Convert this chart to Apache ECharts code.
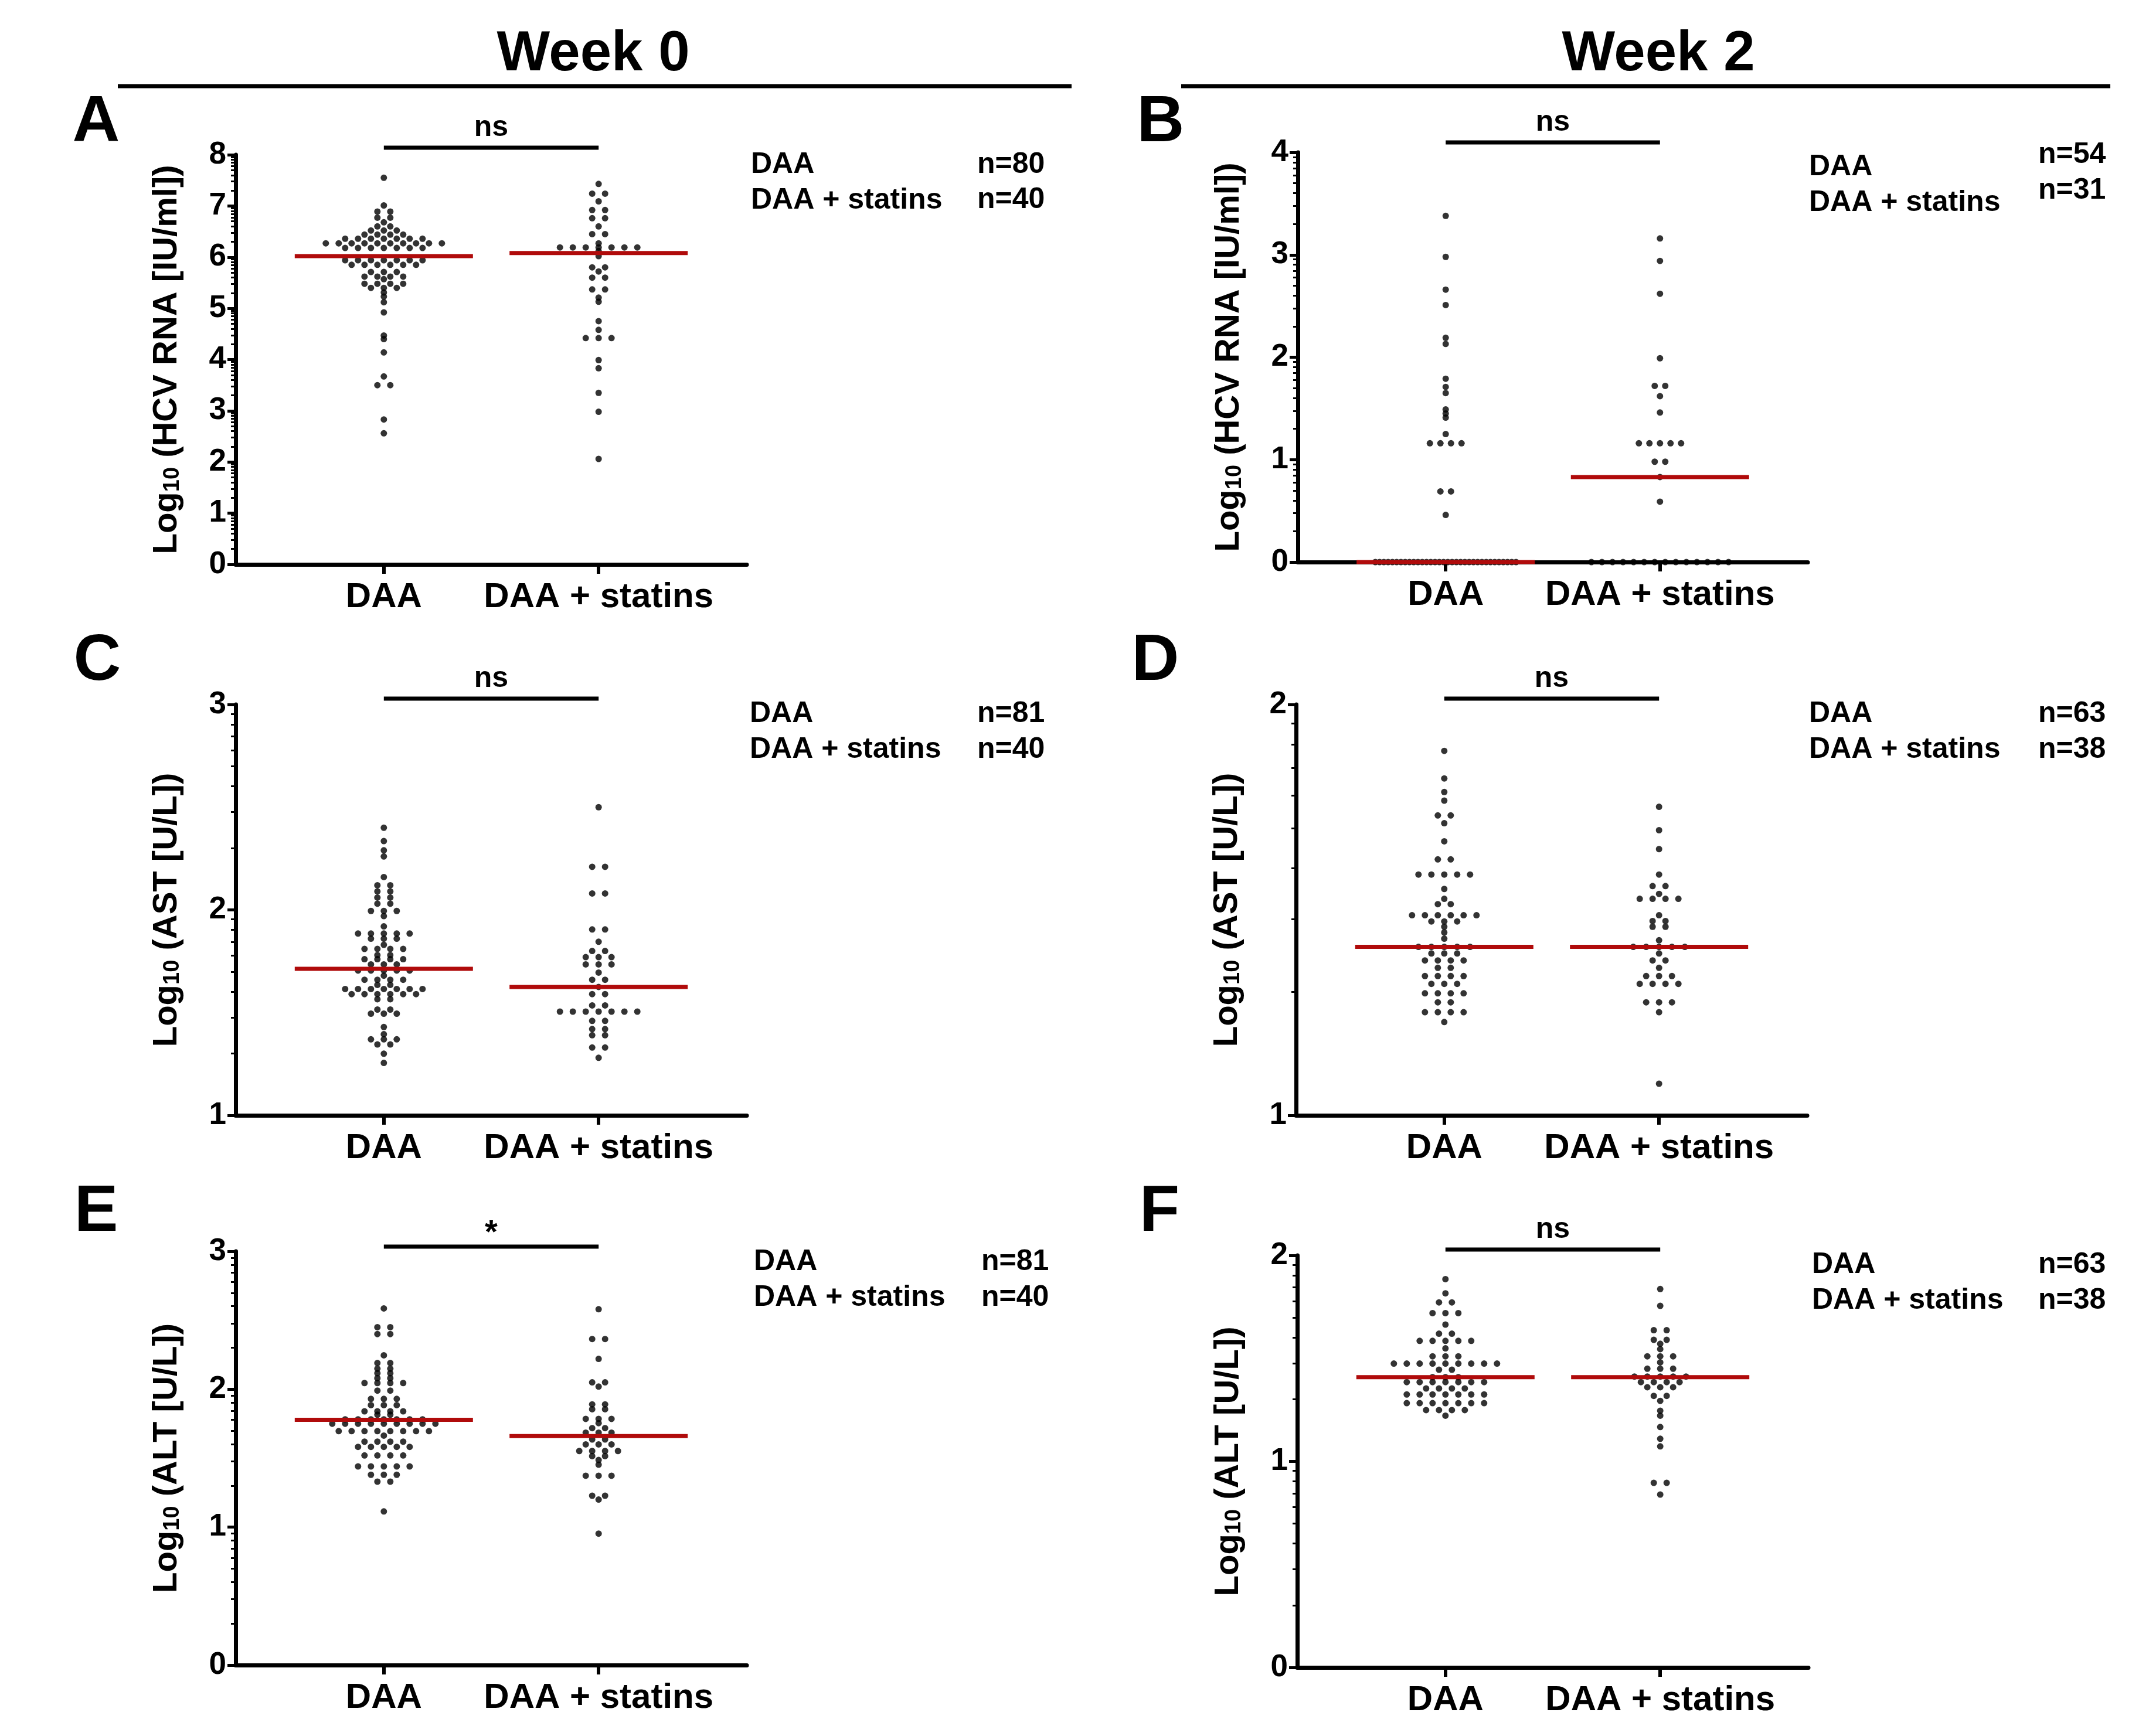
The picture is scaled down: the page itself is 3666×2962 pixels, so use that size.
<!DOCTYPE html>
<html><head><meta charset="utf-8">
<script src="https://cdn.jsdelivr.net/npm/echarts@6/dist/echarts.min.js"></script>
<style>html,body{margin:0;padding:0;background:#fff}#c{width:3666px;height:2962px}</style>
</head><body><div id="c"></div>
<script>
// ---------------- data ----------------
const categories = ['DAA', 'DAA + statins'];
const columnTitles = ['Week 0', 'Week 2'];
const panelLetters = ['A', 'B', 'C', 'D', 'E', 'F'];
const yTitles = ['HCV RNA [IU/ml]', 'HCV RNA [IU/ml]', 'AST [U/L]', 'AST [U/L]', 'ALT [U/L]', 'ALT [U/L]'];
const yRanges = [[0, 8], [0, 4], [1, 3], [1, 2], [0, 3], [0, 2]];
const sigLabels = ['ns', 'ns', 'ns', 'ns', '*', 'ns'];
const nLabels = [['n=80', 'n=40'], ['n=54', 'n=31'], ['n=81', 'n=40'], ['n=63', 'n=38'], ['n=81', 'n=40'], ['n=63', 'n=38']];
const medians = [[6.02, 6.08], [0, 0.83], [1.713, 1.625], [1.41, 1.41], [1.778, 1.66], [1.409, 1.409]];

const A_daa = [7.55, 7.01, 6.89, 6.89, 6.77, 6.77, 6.68, 6.60, 6.60, 6.52, 6.52, 6.52, 6.44, 6.44, 6.44, 6.44,
  6.36, 6.36, 6.36, 6.36, 6.36, 6.36, 6.36,
  6.27, 6.27, 6.27, 6.27, 6.27, 6.27, 6.27, 6.27, 6.27, 6.27,
  6.18, 6.18, 6.18, 6.18, 6.18, 6.18, 6.18,
  5.94, 5.94, 5.94, 5.94, 5.94, 5.94, 5.94,
  5.85, 5.85, 5.85, 5.85, 5.85, 5.85,
  5.71, 5.71, 5.71, 5.62, 5.62, 5.62, 5.62, 5.57, 5.48, 5.48, 5.48, 5.48, 5.40, 5.40, 5.40,
  5.31, 5.23, 5.12, 4.92, 4.47, 4.40, 4.14, 3.67, 3.50, 3.50, 2.83, 2.56];
const A_statins = [7.43, 7.24, 7.24, 7.09, 6.92, 6.92, 6.76, 6.76, 6.60, 6.45, 6.45, 6.27,
  6.19, 6.19, 6.19, 6.19, 6.19, 6.19, 6.19, 6.12, 6.02, 5.80, 5.80, 5.72, 5.60, 5.60, 5.37, 5.37,
  5.21, 5.13, 4.75, 4.58, 4.42, 4.42, 4.42, 3.99, 3.83, 3.35, 2.98, 2.06];

const B_daa = [3.38, 2.98, 2.66, 2.51, 2.19, 2.13, 1.79, 1.71, 1.65, 1.49, 1.45, 1.41, 1.25,
  1.16, 1.16, 1.16, 1.16, 0.69, 0.69, 0.46,
  0, 0, 0, 0, 0, 0, 0, 0, 0, 0, 0, 0, 0, 0, 0, 0, 0, 0, 0, 0, 0, 0, 0, 0, 0, 0, 0, 0, 0, 0, 0, 0, 0, 0];
const B_statins = [3.16, 2.94, 2.62, 1.99, 1.72, 1.72, 1.62, 1.46, 1.16, 1.16, 1.16, 1.16, 1.16,
  0.98, 0.98, 0.83, 0.59, 0, 0, 0, 0, 0, 0, 0, 0, 0, 0, 0, 0, 0, 0];

const C_daa = [2.40, 2.335, 2.29, 2.26, 2.16, 2.12, 2.12, 2.09, 2.09, 2.06, 2.06, 2.03, 2.03,
  1.995, 1.995, 1.995, 1.97, 1.92, 1.885, 1.885, 1.885, 1.885, 1.885, 1.86, 1.86, 1.86, 1.83,
  1.81, 1.81, 1.81, 1.81, 1.78, 1.78, 1.76, 1.76, 1.76, 1.76, 1.735, 1.735, 1.735,
  1.705, 1.705, 1.705, 1.705, 1.705, 1.68, 1.66, 1.66, 1.66, 1.66, 1.635, 1.635,
  1.615, 1.615, 1.615, 1.615, 1.615, 1.615, 1.615, 1.59, 1.59, 1.59, 1.59, 1.59, 1.59,
  1.565, 1.565, 1.515, 1.515, 1.495, 1.495, 1.495, 1.43, 1.395, 1.37, 1.37, 1.37, 1.345, 1.345, 1.30, 1.255];
const C_statins = [2.50, 2.21, 2.21, 2.08, 2.08, 1.905, 1.905, 1.845, 1.80, 1.80, 1.77, 1.77, 1.77,
  1.735, 1.735, 1.735, 1.695, 1.66, 1.66, 1.625, 1.59, 1.59, 1.535, 1.535,
  1.505, 1.505, 1.505, 1.505, 1.505, 1.505, 1.505, 1.46, 1.46, 1.42, 1.42, 1.39, 1.39, 1.33, 1.33, 1.28];

const D_daa = [1.887, 1.820, 1.787, 1.766, 1.73, 1.73, 1.711, 1.667, 1.623, 1.623,
  1.586, 1.586, 1.586, 1.586, 1.586, 1.551, 1.527, 1.514, 1.514,
  1.487, 1.487, 1.487, 1.487, 1.487, 1.487, 1.472, 1.472, 1.472, 1.459, 1.445, 1.430,
  1.410, 1.410, 1.410, 1.410, 1.410, 1.394, 1.394, 1.394, 1.377, 1.377, 1.377, 1.377, 1.359, 1.359,
  1.339, 1.339, 1.339, 1.339, 1.320, 1.320, 1.320, 1.297, 1.297, 1.297, 1.297, 1.275, 1.275,
  1.251, 1.251, 1.251, 1.251, 1.227];
const D_statins = [1.751, 1.694, 1.648, 1.586, 1.558, 1.558, 1.539, 1.527, 1.527, 1.527, 1.527,
  1.487, 1.473, 1.473, 1.459, 1.459, 1.426, 1.410, 1.410, 1.410, 1.410, 1.410, 1.394, 1.377, 1.377,
  1.359, 1.339, 1.339, 1.339, 1.320, 1.320, 1.320, 1.320, 1.275, 1.275, 1.275, 1.251, 1.077];

const E_daa = [2.586, 2.45, 2.45, 2.40, 2.40, 2.246, 2.19, 2.19, 2.149, 2.149, 2.116, 2.116, 2.08, 2.08,
  2.045, 2.045, 2.045, 2.045, 1.99, 1.99, 1.93, 1.93, 1.93, 1.885, 1.885, 1.885, 1.840, 1.840, 1.840, 1.840,
  1.815, 1.815, 1.782, 1.782, 1.782, 1.782, 1.782, 1.782, 1.782,
  1.750, 1.750, 1.750, 1.750, 1.750, 1.750, 1.750, 1.750, 1.750,
  1.696, 1.696, 1.696, 1.696, 1.696, 1.696, 1.696, 1.696, 1.664, 1.62, 1.62, 1.62, 1.62,
  1.582, 1.582, 1.582, 1.582, 1.582, 1.52, 1.52, 1.52, 1.52, 1.44, 1.44, 1.44, 1.44, 1.44,
  1.38, 1.38, 1.38, 1.33, 1.33, 1.114];
const E_statins = [2.580, 2.364, 2.364, 2.220, 2.05, 2.05, 2.019, 1.89, 1.89, 1.855, 1.855,
  1.785, 1.785, 1.785, 1.754, 1.718, 1.718, 1.685, 1.685, 1.685, 1.636, 1.636, 1.60, 1.60, 1.60,
  1.552, 1.552, 1.552, 1.552, 1.515, 1.515, 1.487, 1.453, 1.373, 1.373, 1.373, 1.228, 1.228, 1.200, 0.953];

const F_daa = [1.885, 1.816, 1.772, 1.772, 1.72, 1.72, 1.72, 1.664, 1.62, 1.62,
  1.585, 1.585, 1.585, 1.585, 1.585, 1.549, 1.51, 1.51, 1.51,
  1.475, 1.475, 1.475, 1.475, 1.475, 1.475, 1.475, 1.475, 1.475, 1.445, 1.445,
  1.409, 1.409, 1.409, 1.385, 1.385, 1.385, 1.385, 1.385, 1.385, 1.385, 1.354, 1.354, 1.354, 1.354,
  1.325, 1.325, 1.325, 1.325, 1.325, 1.325, 1.325, 1.283, 1.283, 1.283, 1.283, 1.283, 1.283, 1.283,
  1.249, 1.249, 1.249, 1.249, 1.222];
const F_statins = [1.837, 1.755, 1.637, 1.637, 1.59, 1.59, 1.571, 1.545, 1.51, 1.51, 1.51, 1.481,
  1.45, 1.45, 1.45, 1.412, 1.412, 1.412, 1.412, 1.412, 1.385, 1.385, 1.385, 1.385, 1.360, 1.360, 1.360,
  1.318, 1.318, 1.294, 1.246, 1.222, 1.167, 1.110, 1.073, 0.896, 0.896, 0.839];

const groupData = [[A_daa, A_statins], [B_daa, B_statins], [C_daa, C_statins],
                   [D_daa, D_statins], [E_daa, E_statins], [F_daa, F_statins]];

// ---------------- layout / style ----------------
const FONT = '"Liberation Sans", Arial, Helvetica, sans-serif';
const RED = '#b00b0b';
const grids = [
  {left: 402, top: 264, width: 872, height: 699},
  {left: 2214, top: 260, width: 870, height: 699},
  {left: 402, top: 1202, width: 872, height: 701},
  {left: 2211, top: 1202, width: 872, height: 701},
  {left: 402, top: 2135, width: 872, height: 706},
  {left: 2213, top: 2142, width: 872, height: 703}
];
const X_MIN = 0.31, X_MAX = 2.69;
const swarmStep = [22, 18, 22, 22, 22, 22];
const swarmCap = 240;
const medianHalfPx = 152;
const sigGap = [12, 17, 10, 10, 8, 10];
const legendPos = [
  {x: 1281, y: 281, nx: 1667, ny: [281, 341]},
  {x: 3086, y: 285, nx: 3477, ny: [264, 325]},
  {x: 1279, y: 1218, nx: 1667, ny: [1218, 1279]},
  {x: 3086, y: 1218, nx: 3477, ny: [1218, 1279]},
  {x: 1286, y: 2153, nx: 1674, ny: [2153, 2214]},
  {x: 3091, y: 2158, nx: 3477, ny: [2158, 2219]}
];
const letterPos = [[164, 210], [1980, 210], [166, 1129], [1971, 1129], [164, 2069], [1978, 2069]];

function swarm(vals, center, stepPx, capPx, pxPerX) {
  const s = vals.slice().sort((a, b) => b - a);
  const out = [];
  let i = 0;
  while (i < s.length) {
    let j = i;
    while (j < s.length && s[j] === s[i]) j++;
    const n = j - i;
    const st = n > 1 ? Math.min(stepPx, capPx / (n - 1)) : 0;
    for (let k = 0; k < n; k++) out.push([center + (k - (n - 1) / 2) * st / pxPerX, s[i]]);
    i = j;
  }
  return out;
}
function minorTicks(r) {
  const t = [];
  for (let k = r[0]; k < r[1]; k++) for (let m = 2; m <= 9; m++) t.push(k + Math.log10(m));
  return t;
}

const option = {animation: false, backgroundColor: '#fff', grid: [], xAxis: [], yAxis: [], series: []};
const scatterIdx = [];
grids.forEach((g, i) => {
  option.grid.push(Object.assign({containLabel: false}, g));
  const pxPerX = g.width / (X_MAX - X_MIN);
  option.xAxis.push({
    type: 'value', gridIndex: i, min: X_MIN, max: X_MAX,
    axisLine: {show: true, onZero: false, lineStyle: {color: '#000', width: 7}},
    axisTick: {show: true, customValues: [1, 2], length: 16, lineStyle: {color: '#000', width: 6}},
    axisLabel: {show: true, customValues: [1, 2], formatter: v => categories[Math.round(v) - 1],
      fontSize: 60, fontWeight: 'bold', fontFamily: FONT, color: '#000', margin: 26},
    splitLine: {show: false}
  });
  const r = yRanges[i];
  option.yAxis.push({
    type: 'value', gridIndex: i, min: r[0], max: r[1], interval: 1, position: 'left',
    axisLine: {show: true, onZero: false, lineStyle: {color: '#000', width: 7}},
    axisTick: {show: true, length: 14, lineStyle: {color: '#000', width: 5}},
    axisLabel: {fontSize: 53, fontWeight: 'bold', fontFamily: FONT, color: '#000', margin: 16},
    splitLine: {show: false},
    name: '{a|Log}{b|10}{a| (' + yTitles[i] + ')}',
    nameLocation: 'middle', nameRotate: 90, nameGap: 88,
    nameTextStyle: {rich: {
      a: {fontSize: 58, fontWeight: 'bold', fontFamily: FONT, color: '#000', verticalAlign: 'bottom', lineHeight: 66},
      b: {fontSize: 38, fontWeight: 'bold', fontFamily: FONT, color: '#000', verticalAlign: 'bottom', lineHeight: 50}
    }}
  });
  option.yAxis.push({
    type: 'value', gridIndex: i, min: r[0], max: r[1], position: 'left', offset: 0,
    axisLine: {show: false},
    axisTick: {show: true, customValues: minorTicks(r), length: 8, lineStyle: {color: '#000', width: 3}},
    axisLabel: {show: false}, splitLine: {show: false}
  });
  groupData[i].forEach((vals, c) => {
    if (c === 0) scatterIdx.push(option.series.length);
    option.series.push({
      type: 'scatter', xAxisIndex: i, yAxisIndex: 2 * i, clip: false, silent: true,
      symbol: 'circle', symbolSize: 11, itemStyle: {color: '#000'}, z: 3,
      data: swarm(vals, c + 1, swarmStep[i], swarmCap, pxPerX)
    });
  });
  medians[i].forEach((m, c) => {
    const hw = medianHalfPx / pxPerX;
    option.series.push({
      type: 'line', xAxisIndex: i, yAxisIndex: 2 * i, clip: false, silent: true, symbol: 'none', z: 4,
      lineStyle: {color: RED, width: 7}, data: [[c + 1 - hw, m], [c + 1 + hw, m]]
    });
  });
});

const chart = echarts.init(document.getElementById('c'), null, {renderer: 'canvas'});
chart.setOption(option);

function txt(t, x, y, size, align) {
  return {type: 'text', x: x, y: y, z: 10, style: {text: t, font: 'bold ' + size + 'px ' + FONT, fill: '#000',
    align: align, verticalAlign: 'middle', textAlign: align, textVerticalAlign: 'middle'}};
}
const gfx = [];
gfx.push(txt(columnTitles[0], 1012, 94, 96, 'center'));
gfx.push(txt(columnTitles[1], 2829, 94, 96, 'center'));
gfx.push({type: 'line', shape: {x1: 201, y1: 147, x2: 1828, y2: 147}, style: {stroke: '#000', lineWidth: 7}});
gfx.push({type: 'line', shape: {x1: 2015, y1: 147, x2: 3600, y2: 147}, style: {stroke: '#000', lineWidth: 7}});
grids.forEach((g, i) => {
  const r = yRanges[i];
  const p1 = chart.convertToPixel({seriesIndex: scatterIdx[i]}, [1, r[1]]);
  const p2 = chart.convertToPixel({seriesIndex: scatterIdx[i]}, [2, r[1]]);
  const yb = p1[1] - sigGap[i];
  gfx.push({type: 'line', shape: {x1: p1[0], y1: yb, x2: p2[0], y2: yb}, style: {stroke: '#000', lineWidth: 7}});
  const isStar = sigLabels[i] === '*';
  gfx.push(txt(sigLabels[i], (p1[0] + p2[0]) / 2, yb - (isStar ? 22 : 34), isStar ? 56 : 50, 'center'));
  gfx.push(txt(panelLetters[i], letterPos[i][0], letterPos[i][1], 112, 'center'));
  const L = legendPos[i];
  gfx.push(txt(categories[0], L.x, L.y, 50, 'left'));
  gfx.push(txt(categories[1], L.x, L.y + 61, 50, 'left'));
  gfx.push(txt(nLabels[i][0], L.nx, L.ny[0], 50, 'left'));
  gfx.push(txt(nLabels[i][1], L.nx, L.ny[1], 50, 'left'));
});
chart.setOption({graphic: gfx});
</script>
</body></html>
